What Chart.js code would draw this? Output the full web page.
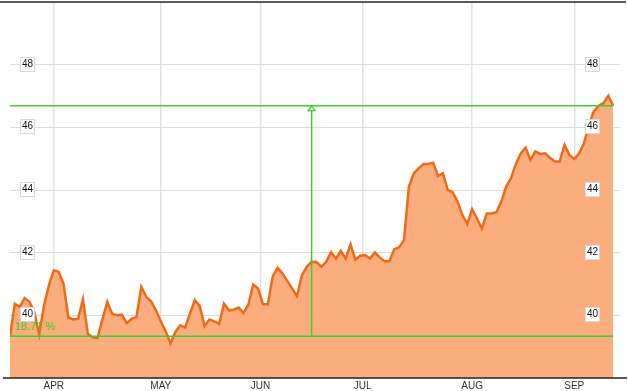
<!DOCTYPE html>
<html>
<head>
<meta charset="utf-8">
<script src="https://cdn.jsdelivr.net/npm/chart.js@4/dist/chart.umd.min.js"></script>
<style>
  html, body { margin: 0; padding: 0; background: #fff; }
  #wrap { width: 628px; height: 391px; position: relative; }
</style>
</head>
<body>
<div id="wrap"><canvas id="chart"></canvas></div>
<script>
// daily closing prices (trading day index 0..124)
const prices = [
  39.33, 40.37, 40.27, 40.55, 40.43, 40.10, 39.39, 40.32, 40.96, 41.44,
  41.39, 41.01, 39.93, 39.87, 39.89, 40.51, 39.41, 39.29, 39.28, 39.87,
  40.43, 40.05, 40.00, 40.02, 39.75, 39.89, 39.95, 40.91, 40.59, 40.45,
  40.16, 39.81, 39.49, 39.11, 39.47, 39.68, 39.61, 40.06, 40.48, 40.30,
  39.66, 39.87, 39.81, 39.73, 40.37, 40.16, 40.18, 40.25, 40.07, 40.34,
  40.98, 40.86, 40.35, 40.35, 41.23, 41.52, 41.34, 41.10, 40.86, 40.61,
  41.28, 41.55, 41.71, 41.70, 41.55, 41.71, 42.01, 41.81, 42.06, 41.81,
  42.27, 41.78, 41.90, 41.92, 41.81, 42.01, 41.85, 41.73, 41.73, 42.11,
  42.17, 42.40, 44.11, 44.53, 44.69, 44.83, 44.83, 44.87, 44.45, 44.53,
  44.00, 43.93, 43.63, 43.20, 42.91, 43.39, 43.09, 42.77, 43.25, 43.25,
  43.29, 43.63, 44.11, 44.38, 44.83, 45.17, 45.35, 44.96, 45.23, 45.15,
  45.17, 45.03, 44.91, 44.91, 45.44, 45.12, 44.99, 45.17, 45.49, 46.08,
  46.51, 46.69, 46.77, 47.01, 46.69
];

// month labels and the trading-day index where each month begins
const monthLabels = ['APR', 'MAY', 'JUN', 'JUL', 'AUG', 'SEP'];
const monthTicks = [9, 31, 51.5, 72.5, 95, 116];

// price axis labels
const yTicks = [40, 42, 44, 46, 48];

const green = 'rgb(60,206,45)';
const font = '"Liberation Sans", Arial, sans-serif';

const first = prices[0];
const last = prices[prices.length - 1];
const lastIdx = prices.length - 1;
const midIdx = Math.round(lastIdx / 2);
const change = ((last / first - 1) * 100).toFixed(2) + ' %';

const series = prices.map((v, i) => ({ x: i, y: v }));

// frame, change marker and boxed price labels
const overlay = {
  id: 'overlay',
  afterDatasetsDraw(chart) {
    const { ctx, chartArea, scales } = chart;
    const xs = scales.x, ys = scales.y;
    ctx.save();

    // top frame line and bottom axis line
    ctx.strokeStyle = '#222';
    ctx.lineWidth = 1.5;
    ctx.beginPath();
    ctx.moveTo(0, chartArea.top);
    ctx.lineTo(chart.width - 2, chartArea.top);
    ctx.stroke();
    ctx.beginPath();
    ctx.moveTo(3, chartArea.bottom);
    ctx.lineTo(chart.width - 1, chartArea.bottom);
    ctx.stroke();

    // arrow head on the change marker
    const ax = xs.getPixelForValue(midIdx);
    const ay = ys.getPixelForValue(last);
    ctx.strokeStyle = green;
    ctx.fillStyle = '#fff';
    ctx.lineWidth = 1.3;
    ctx.beginPath();
    ctx.moveTo(ax, ay + 0.5);
    ctx.lineTo(ax - 3.5, ay + 5);
    ctx.lineTo(ax + 3.5, ay + 5);
    ctx.closePath();
    ctx.fill();
    ctx.stroke();

    // change percentage
    ctx.fillStyle = green;
    ctx.font = '11px ' + font;
    ctx.textBaseline = 'alphabetic';
    ctx.textAlign = 'left';
    ctx.fillText(change, 15, ys.getPixelForValue(first) - 6.5);

    // boxed price labels on both sides
    ctx.font = '10px ' + font;
    ctx.textAlign = 'center';
    ctx.textBaseline = 'middle';
    yTicks.forEach(v => {
      const py = Math.round(ys.getPixelForValue(v)) - 1;
      [27, 592].forEach(cx => {
        ctx.fillStyle = '#fff';
        ctx.fillRect(cx - 7, py - 7, 14, 14);
        ctx.strokeStyle = '#d8d8d8';
        ctx.lineWidth = 1;
        ctx.strokeRect(cx - 6.5, py - 6.5, 14, 14);
        ctx.fillStyle = '#111';
        ctx.fillText(String(v), cx + 0.5, py + 0.5);
      });
    });
    ctx.restore();
  }
};

new Chart(document.getElementById('chart'), {
  type: 'line',
  data: {
    datasets: [
      {
        data: series,
        borderColor: '#ef6a16',
        borderWidth: 2.5,
        backgroundColor: 'rgb(252,173,125)',
        fill: 'origin',
        tension: 0,
        pointRadius: 0,
        order: 2
      },
      {
        data: [{ x: 0, y: first }, { x: lastIdx, y: first }],
        borderColor: green, borderWidth: 1.5, pointRadius: 0, fill: false, order: 1
      },
      {
        data: [{ x: 0, y: last }, { x: lastIdx, y: last }],
        borderColor: green, borderWidth: 1.5, pointRadius: 0, fill: false, order: 1
      },
      {
        data: [{ x: midIdx, y: first }, { x: midIdx, y: last }],
        borderColor: green, borderWidth: 1.5, pointRadius: 0, fill: false, order: 1
      }
    ]
  },
  options: {
    responsive: true,
    maintainAspectRatio: false,
    devicePixelRatio: 1,
    animation: false,
    layout: { padding: { left: 10, right: 8, top: 2, bottom: 0 } },
    plugins: { legend: { display: false }, tooltip: { enabled: false } },
    scales: {
      x: {
        type: 'linear',
        min: 0,
        max: 125.4,
        afterBuildTicks: axis => { axis.ticks = monthTicks.map(v => ({ value: v })); },
        afterFit: axis => { axis.height = 13; },
        ticks: {
          callback: v => monthLabels[monthTicks.indexOf(v)],
          color: '#333',
          font: { family: font, size: 10 },
          padding: 2,
          maxRotation: 0,
          autoSkip: false
        },
        grid: { color: '#e2e2e2', lineWidth: 1.5, drawTicks: false },
        border: { display: false }
      },
      y: {
        min: 38,
        max: 50,
        afterBuildTicks: axis => { axis.ticks = yTicks.map(v => ({ value: v })); },
        afterFit: axis => { axis.width = 0; },
        ticks: { display: false },
        grid: { color: '#dcdcdc', lineWidth: 1, drawTicks: false },
        border: { display: false }
      }
    }
  },
  plugins: [overlay]
});
</script>
</body>
</html>
